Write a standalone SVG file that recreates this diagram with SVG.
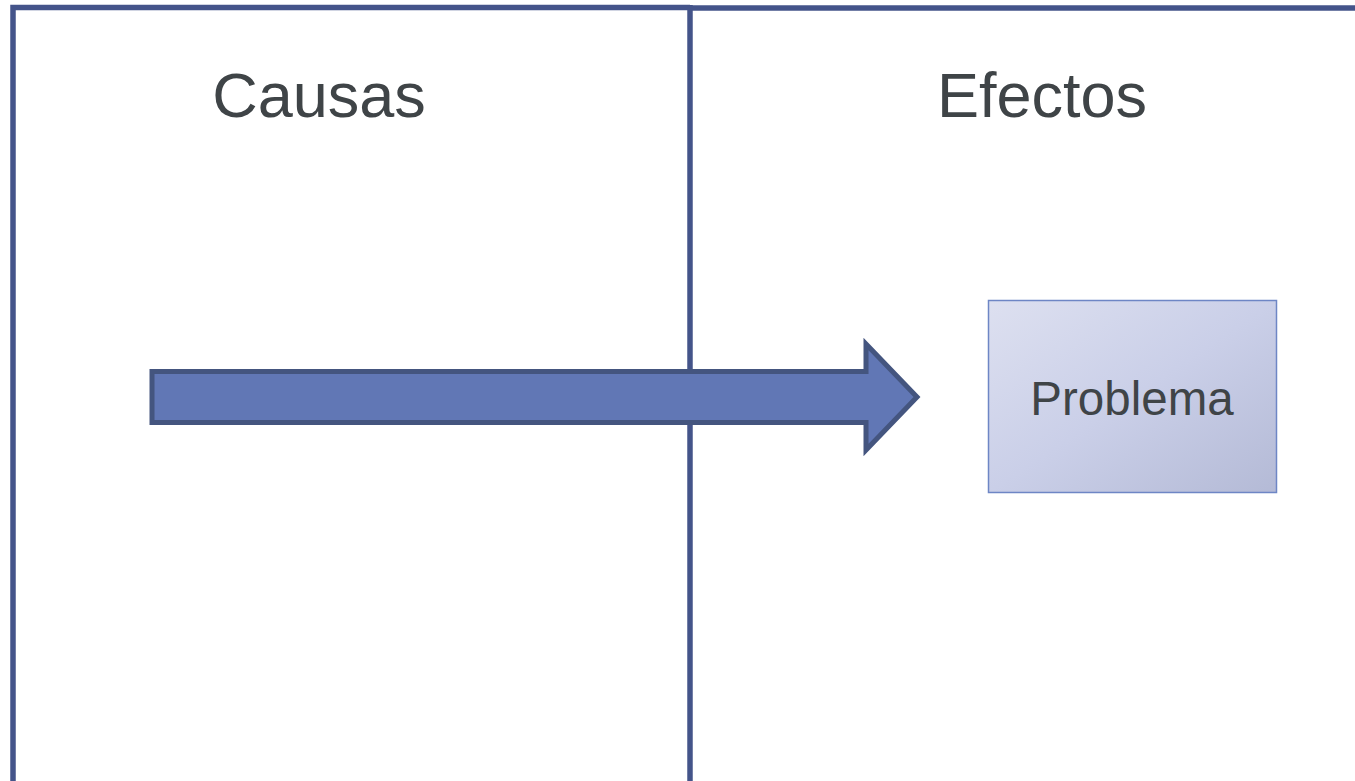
<svg xmlns="http://www.w3.org/2000/svg" width="1355" height="781" viewBox="0 0 1355 781">
  <style>
    .frame { fill: none; stroke: #44548A; stroke-width: 5.5; }
    .title { font-family: "Liberation Sans", Arial, sans-serif; font-size: 63px; fill: #3F4447; text-anchor: middle; }
    .label { font-family: "Liberation Sans", Arial, sans-serif; font-size: 47.5px; fill: #3F4447; text-anchor: middle; }
  </style>
  <defs>
    <linearGradient id="boxFill" x1="0" y1="0" x2="1" y2="1">
      <stop offset="0" stop-color="#DDE0F0"/>
      <stop offset="0.5" stop-color="#CACFE8"/>
      <stop offset="1" stop-color="#B4BAD6"/>
    </linearGradient>
  </defs>

  <rect width="1355" height="781" fill="#FFFFFF"/>

  <!-- two-column frame -->
  <g id="columns">
    <polyline class="frame" points="13,781 13,7.5 690,7.5"/>
    <line class="frame" x1="690" y1="8" x2="1355" y2="8"/>
    <line class="frame" x1="690" y1="5" x2="690" y2="781"/>
  </g>

  <g id="causas">
    <text class="title" x="319" y="117">Causas</text>
  </g>
  <g id="efectos">
    <text class="title" x="1042" y="117">Efectos</text>
  </g>

  <!-- block arrow from causes to the problem -->
  <g id="connectors">
    <path d="M152,371.5 L866,371.5 L866,344 L917,397 L866,450 L866,422.5 L152,422.5 Z"
          fill="#6177B5" stroke="#44557F" stroke-width="5" stroke-linejoin="miter"/>
  </g>

  <g id="problema">
    <rect x="988.5" y="300.5" width="288" height="192" fill="url(#boxFill)" stroke="#6E86C5" stroke-width="1.5"/>
    <text class="label" x="1132" y="415">Problema</text>
  </g>
</svg>
